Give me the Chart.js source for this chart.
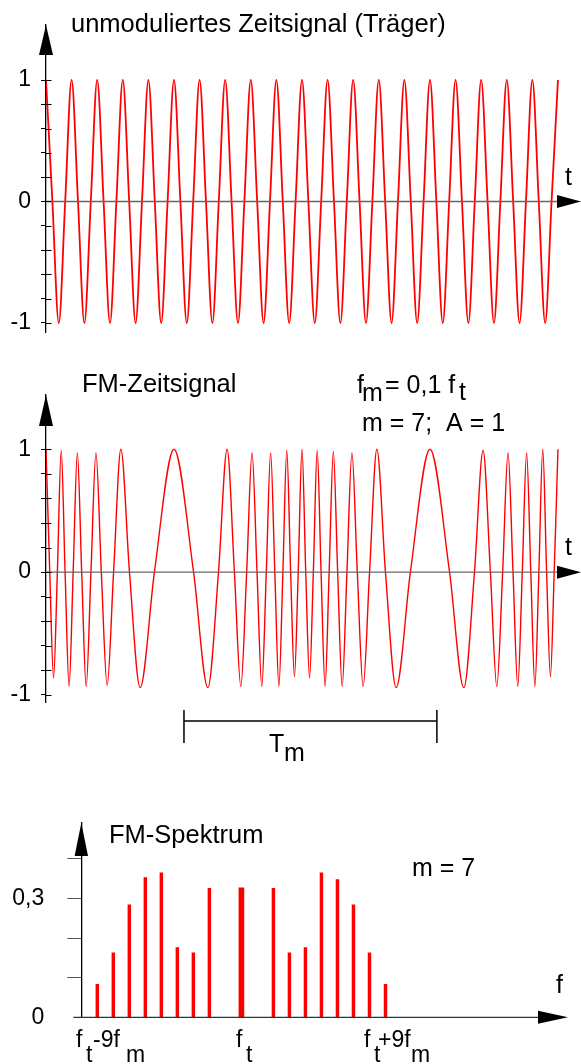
<!DOCTYPE html>
<html>
<head>
<meta charset="utf-8">
<script src="https://cdn.jsdelivr.net/npm/chart.js@4.4.1/dist/chart.umd.min.js"></script>
<style>
  body { margin:0; background:#fff; width:581px; height:1064px; position:relative; overflow:hidden; }
  canvas { position:absolute; left:0; }
</style>
</head>
<body>
<canvas id="carrier" width="581" height="345" style="top:0px"></canvas>
<canvas id="fm" width="581" height="445" style="top:345px"></canvas>
<canvas id="spectrum" width="581" height="274" style="top:790px"></canvas>
<script>
// time in carrier periods; extrema and zero crossings of the carrier
const carrierT = [0,0.25,0.5,0.75,1,1.25,1.5,1.75,2,2.25,2.5,2.75,3,3.25,3.5,3.75,4,4.25,4.5,4.75,
  5,5.25,5.5,5.75,6,6.25,6.5,6.75,7,7.25,7.5,7.75,8,8.25,8.5,8.75,9,9.25,9.5,9.75,
  10,10.25,10.5,10.75,11,11.25,11.5,11.75,12,12.25,12.5,12.75,13,13.25,13.5,13.75,14,14.25,14.5,14.75,
  15,15.25,15.5,15.75,16,16.25,16.5,16.75,17,17.25,17.5,17.75,18,18.25,18.5,18.75,19,19.25,19.5,19.75,20];
const carrierY = [1,0,-1,0, 1,0,-1,0, 1,0,-1,0, 1,0,-1,0, 1,0,-1,0,
  1,0,-1,0, 1,0,-1,0, 1,0,-1,0, 1,0,-1,0, 1,0,-1,0,
  1,0,-1,0, 1,0,-1,0, 1,0,-1,0, 1,0,-1,0, 1,0,-1,0,
  1,0,-1,0, 1,0,-1,0, 1,0,-1,0, 1,0,-1,0, 1,0,-1,0, 1];

// FM signal: extrema and zero crossings (time in carrier periods)
const fmT = [0,0.147,0.295,0.444,0.594,0.746,0.902,1.061,1.225,1.394,1.570,1.756,1.951,2.161,2.389,2.640,2.925,3.261,3.677,4.235,
  5,5.765,6.323,6.739,7.075,7.360,7.611,7.839,8.049,8.244,8.430,8.606,8.775,8.939,9.098,9.254,9.406,9.557,9.705,9.853,
  10,10.147,10.295,10.444,10.594,10.746,10.902,11.061,11.225,11.394,11.570,11.756,11.951,12.161,12.389,12.640,12.925,13.261,13.677,14.235,
  15,15.765,16.323,16.739,17.075,17.360,17.611,17.839,18.049,18.244,18.430,18.606,18.775,18.939,19.098,19.254,19.406,19.557,19.705,19.853,20];
const fmY = [1,0,-0.86,0, 0.99,0,-0.93,0, 0.97,0,-0.93,0, 0.97,0,-0.92,0, 1,0,-0.94,0,
  1,0,-0.94,0, 1,0,-0.93,0, 0.97,0,-0.93,0, 0.97,0,-0.93,0, 0.99,0,-0.85,0,
  1,0,-0.86,0, 0.99,0,-0.93,0, 0.98,0,-0.93,0, 0.97,0,-0.93,0, 1,0,-0.94,0,
  1,0,-0.94,0, 0.99,0,-0.93,0, 0.97,0,-0.93,0, 0.97,0,-0.93,0, 1,0,-0.85,0, 1];
const tmSpan = [5.39, 15.27];

const ampTicks = [-1,-0.8,-0.6,-0.4,-0.2,0,0.2,0.4,0.6,0.8,1];
const ampLabels = ['-1','','','','','0','','','','','1'];

// spectrum: offset from f_t in multiples of f_m
const sideOffsets = [-9,-8,-7,-6,-5,-4,-3,-2,-1,1,2,3,4,5,6,7,8,9];
const sideValues = [0.083,0.163,0.284,0.353,0.365,0.176,0.163,0.326,0,0,0.326,0.163,0.176,0.365,0.348,0.284,0.163,0.083];
const carrierOffset = [0];
const carrierValue = [0.327];
const specTicks = [0,0.1,0.2,0.3,0.4];
const specLabels = ['0','','','0,3',''];

const FONT = '"Liberation Sans", Arial, sans-serif';
const RED = '#ff0000';

const deco = {
  id: 'deco',
  afterDraw(chart, args, o) {
    const ctx = chart.ctx, a = chart.chartArea, x = chart.scales.x, y = chart.scales.y;
    const y0 = y.getPixelForValue(0);
    ctx.save();
    // horizontal axis
    ctx.strokeStyle = o.xColor; ctx.lineWidth = 1.3;
    ctx.beginPath(); ctx.moveTo(a.left - o.xLead, y0); ctx.lineTo(a.right - o.xArrow[0] + 1, y0); ctx.stroke();
    // inner halves of tick marks
    if (o.inner) {
      ctx.strokeStyle = '#000'; ctx.lineWidth = 1;
      y.ticks.forEach(t => {
        const py = Math.round(y.getPixelForValue(t.value)) + 0.5;
        ctx.beginPath(); ctx.moveTo(a.left, py); ctx.lineTo(a.left + o.inner, py); ctx.stroke();
      });
    }
    // arrow heads
    ctx.fillStyle = '#000';
    ctx.beginPath();
    ctx.moveTo(a.right, y0); ctx.lineTo(a.right - o.xArrow[0], y0 - o.xArrow[1]); ctx.lineTo(a.right - o.xArrow[0], y0 + o.xArrow[1]);
    ctx.closePath(); ctx.fill();
    ctx.beginPath();
    ctx.moveTo(a.left, a.top); ctx.lineTo(a.left - o.yArrow[1], a.top + o.yArrow[0]); ctx.lineTo(a.left + o.yArrow[1], a.top + o.yArrow[0]);
    ctx.closePath(); ctx.fill();
    // T_m bracket
    if (o.bracket) {
      const xa = x.getPixelForValue(tmSpan[0]), xb = x.getPixelForValue(tmSpan[1]);
      const b = o.bracket;
      ctx.strokeStyle = '#000'; ctx.lineWidth = 1.5;
      ctx.beginPath();
      ctx.moveTo(xa, b[0] - o.top); ctx.lineTo(xb, b[0] - o.top);
      ctx.moveTo(xa, b[1] - o.top); ctx.lineTo(xa, b[2] - o.top);
      ctx.moveTo(xb, b[1] - o.top); ctx.lineTo(xb, b[2] - o.top);
      ctx.stroke();
    }
    // texts
    ctx.fillStyle = '#000'; ctx.textAlign = 'left'; ctx.textBaseline = 'alphabetic';
    o.texts.forEach(t => {
      ctx.font = t[3] + 'px ' + FONT;
      ctx.fillText(t[0], t[1], t[2] - o.top);
    });
    ctx.restore();
  }
};

function ampScale(min, max) {
  return {
    type: 'linear', min: min, max: max,
    afterBuildTicks: s => { s.ticks = ampTicks.map(v => ({value: v})); },
    afterFit: s => { s.width = 46; s.paddingTop = 0; s.paddingBottom = 0; },
    ticks: { autoSkip: false, padding: 10, color: '#000', font: { family: FONT, size: 23 },
      callback: (v, i) => ampLabels[i] },
    grid: { drawOnChartArea: false, tickLength: 5, tickColor: '#000', tickWidth: 1 },
    border: { display: true, color: '#000', width: 1.3 }
  };
}

function timeChart(id, xs, ys, width, pad, yMin, yMax, plug) {
  return new Chart(document.getElementById(id), {
    type: 'line',
    data: { datasets: [{
      data: xs.map((t, i) => ({x: t, y: ys[i]})),
      borderColor: RED, borderWidth: width, pointRadius: 0,
      cubicInterpolationMode: 'monotone', fill: false
    }]},
    options: {
      responsive: false, animation: false, devicePixelRatio: 1,
      layout: { padding: pad },
      plugins: { legend: { display: false }, tooltip: { enabled: false }, deco: plug },
      scales: {
        x: { type: 'linear', min: 0, max: 20.9, display: false },
        y: ampScale(yMin, yMax)
      }
    },
    plugins: [deco]
  });
}

timeChart('carrier', carrierT, carrierY, 1.8, { top: 25, bottom: 13, left: 0, right: 0 }, -1.0741, 1.4527, {
  top: 0, xColor: '#666', xLead: 0, xArrow: [24, 6.5], yArrow: [30, 7], inner: 5.5,
  texts: [
    ['unmoduliertes Zeitsignal (Träger)', 71, 32, 25.5],
    ['t', 565, 185, 25]
  ]
});

timeChart('fm', fmT, fmY, 1.4, { top: 50, bottom: 88, left: 0, right: 0 }, -1.057, 1.442, {
  top: 345, xColor: '#666', xLead: 0, xArrow: [24, 6.5], yArrow: [31, 7], inner: 5.5,
  bracket: [721, 710, 743],
  texts: [
    ['FM-Zeitsignal', 82, 392, 25.5],
    ['f', 357, 393, 25], ['m', 362, 401, 25], ['= 0,1 f', 385, 393, 25], ['t', 459, 400, 25],
    ['m = 7;  A = 1', 362, 431, 25],
    ['t', 565, 555, 25],
    ['T', 269, 752, 25], ['m', 284, 761, 25]
  ]
});

new Chart(document.getElementById('spectrum'), {
  type: 'bar',
  data: { datasets: [
    { data: sideOffsets.map((n, i) => ({x: n, y: sideValues[i]})), backgroundColor: RED, barThickness: 2.8, grouped: false },
    { data: carrierOffset.map((n, i) => ({x: n, y: carrierValue[i]})), backgroundColor: RED, barThickness: 5, grouped: false }
  ]},
  options: {
    responsive: false, animation: false, devicePixelRatio: 1,
    layout: { padding: { top: 33, bottom: 46.7, left: 0, right: 13 } },
    plugins: { legend: { display: false }, tooltip: { enabled: false }, deco: {
      top: 790, xColor: '#333', xLead: 8, xArrow: [30, 6.5], yArrow: [33, 6.7], inner: 0,
      texts: [
        ['FM-Spektrum', 109, 843, 25.5],
        ['m = 7', 412, 876, 25],
        ['f', 556, 993, 25],
        ['f', 76, 1047, 23], ['t', 86, 1062, 23], ['-9f', 93, 1047, 23], ['m', 126, 1062, 23],
        ['f', 236, 1047, 23], ['t', 246, 1062, 23],
        ['f', 364, 1047, 23], ['t', 374, 1062, 23], ['+9f', 378, 1047, 23], ['m', 411, 1062, 23]
      ]
    } },
    scales: {
      x: { type: 'linear', min: -10, max: 20.4, offset: false, display: false },
      y: {
        type: 'linear', min: 0, max: 0.4907,
        afterBuildTicks: s => { s.ticks = specTicks.map(v => ({value: v})); },
        afterFit: s => { s.width = 81.3; s.paddingTop = 0; s.paddingBottom = 0; },
        ticks: { autoSkip: false, padding: 23, color: '#000', font: { family: FONT, size: 23 },
          callback: (v, i) => specLabels[i] },
        grid: { drawOnChartArea: false, tickLength: 14, tickWidth: 1,
          tickColor: c => c.tick && c.tick.value === 0 ? 'rgba(0,0,0,0)' : '#555' },
        border: { display: true, color: '#000', width: 1.3 }
      }
    }
  },
  plugins: [deco]
});
</script>
</body>
</html>
